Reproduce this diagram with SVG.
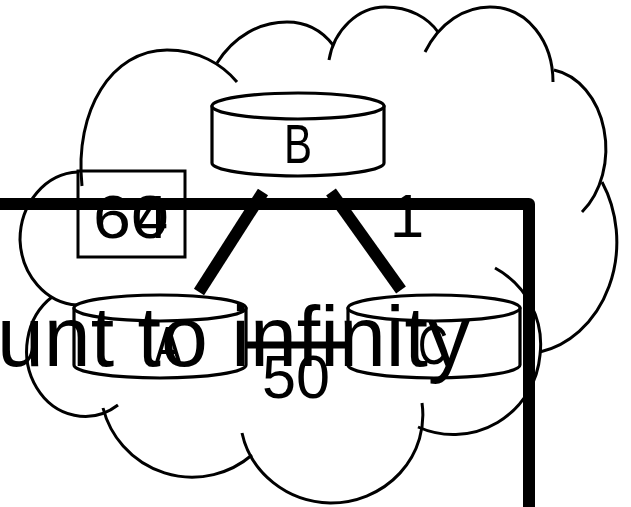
<svg xmlns="http://www.w3.org/2000/svg" width="631" height="507" viewBox="0 0 631 507">
  <style>
    .cloud { fill: none; stroke: #000; stroke-width: 3; }
    .router { fill: #fff; stroke: #000; stroke-width: 3.2; stroke-linejoin: round; }
    .lbl { font-family: "Liberation Sans", Arial, sans-serif; fill: #000; }
    .link { stroke: #000; stroke-width: 12; fill: none; }
  </style>

  <!-- network cloud, drawn as separate scalloped arcs -->
  <g id="cloud" class="cloud">
    <path d="M82,186 C74,110 112,50 167,50 C198,50 222,64 237,82"/>
    <path d="M217,63 C234,36 260,22 287,22 C308,22 323,32 333,45"/>
    <path d="M329,60 C334,30 358,7 385,7 C410,7 428,18 438,32"/>
    <path d="M425,52 C440,22 465,7 490,7 C528,7 553,42 553,82"/>
    <path d="M554,70 A62,80 0 0 1 582,212"/>
    <path d="M602,182 A95,112 0 0 1 540,352"/>
    <path d="M495,268 A87,87 0 0 1 540,355 A87,87 0 0 1 418,427"/>
    <path d="M422,403 A92,88 0 0 1 330,503 A92,88 0 0 1 242,433"/>
    <path d="M252,455 A92,92 0 0 1 103,408"/>
    <path d="M118,405 A58,65 0 0 1 52,297"/>
    <path d="M77,305 A60,68 0 0 1 20,240 A60,68 0 0 1 78,172"/>
  </g>

  <!-- cost box -->
  <g id="cost-box">
    <rect x="78" y="171" width="107" height="86" fill="none" stroke="#000" stroke-width="3"/>
    <text class="lbl" x="93" y="238" font-size="62" textLength="76" lengthAdjust="spacingAndGlyphs">60</text>
    <text class="lbl" x="152" y="238" font-size="62" text-anchor="middle" textLength="32" lengthAdjust="spacingAndGlyphs">4</text>
  </g>

  <!-- routers -->
  <g id="router-B">
    <path class="router" d="M212,106 L212,163 A86,13 0 0 0 384,163 L384,106 Z"/>
    <ellipse class="router" cx="298" cy="106" rx="86" ry="13"/>
    <text class="lbl" x="298" y="163" font-size="56" text-anchor="middle" textLength="28" lengthAdjust="spacingAndGlyphs">B</text>
  </g>
  <g id="router-A">
    <path class="router" d="M74,308 L74,365 A86,13 0 0 0 246,365 L246,308 Z"/>
    <ellipse class="router" cx="160" cy="308" rx="86" ry="13"/>
    <text class="lbl" x="168" y="365" font-size="56" text-anchor="middle" textLength="28" lengthAdjust="spacingAndGlyphs">A</text>
  </g>
  <g id="router-C">
    <path class="router" d="M348,308 L348,365 A86,13 0 0 0 520,365 L520,308 Z"/>
    <ellipse class="router" cx="434" cy="308" rx="86" ry="13"/>
    <text class="lbl" x="433" y="364" font-size="56" text-anchor="middle" textLength="30" lengthAdjust="spacingAndGlyphs">C</text>
  </g>

  <!-- links -->
  <g id="links">
    <line class="link" x1="263" y1="192" x2="199" y2="292"/>
    <line class="link" x1="331" y1="192" x2="401" y2="290"/>
    <line x1="247" y1="345" x2="349" y2="345" stroke="#000" stroke-width="7"/>
    <polyline points="0,204 529,204 529,507" fill="none" stroke="#000" stroke-width="12" stroke-linejoin="round"/>
  </g>

  <!-- link costs and caption -->
  <text class="lbl" x="407" y="237" font-size="62" text-anchor="middle">1</text>
  <text class="lbl" x="296" y="398" font-size="62" text-anchor="middle" textLength="68" lengthAdjust="spacingAndGlyphs">50</text>
  <text class="lbl" x="-3" y="366" font-size="86" textLength="473" lengthAdjust="spacingAndGlyphs">unt to infinity</text>
</svg>
